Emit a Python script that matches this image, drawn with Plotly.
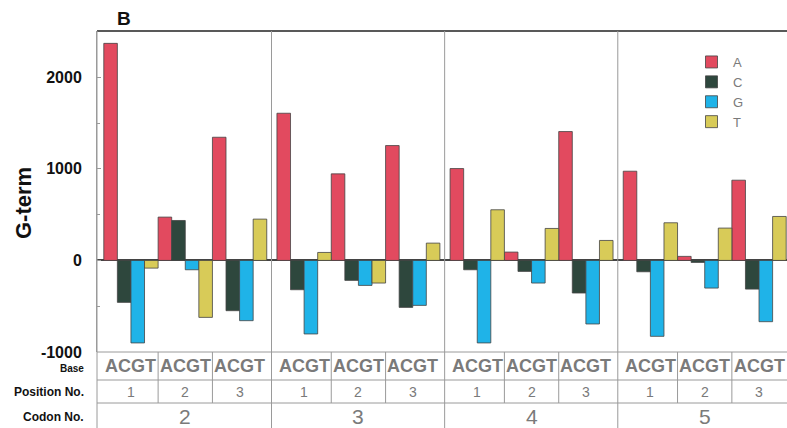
import plotly.graph_objects as go

# ---- data ----
codons = ["2", "3", "4", "5"]
positions = ["1", "2", "3"]
bases = ["A", "C", "G", "T"]
# values ordered codon-major, then position (codon 2 pos1, pos2, pos3, codon 3 pos1, ...)
A_vals = [2370, 473, 1345, 1607, 945, 1254, 1003, 91, 1407, 974, 44, 876]
C_vals = [-458, 436, -549, -320, -218, -513, -102, -120, -356, -124, -22, -313]
G_vals = [-901, -102, -658, -803, -273, -491, -901, -247, -694, -829, -302, -669]
T_vals = [-84, -622, 451, 87, -247, 189, 553, 349, 218, 411, 353, 480]
series = {"A": A_vals, "C": C_vals, "G": G_vals, "T": T_vals}
colors = {"A": "#e24a5f", "C": "#2e473d", "G": "#1fb3e8", "T": "#d8cb58"}
y_ticks = [-1000, 0, 1000, 2000]

# ---- layout helpers (category slots) ----
GROUP = 12.75
START = 0.5
def group_start(g):
    return START + g * GROUP

fig = go.Figure()
for bi, b in enumerate(bases):
    xs, ys = [], []
    k = 0
    for gi in range(len(codons)):
        for pi in range(len(positions)):
            xs.append(group_start(gi) + pi * 4 + bi + 0.5)
            ys.append(series[b][k])
            k += 1
    fig.add_trace(go.Bar(x=xs, y=ys, name=b, width=1,
                         marker=dict(color=colors[b], line=dict(color="#444", width=0.8))))

W, H = 787, 428
L, T, B = 97, 31, 76
plot_h = H - T - B
def py(pix):
    return (H - B - pix) / plot_h
def px(pix):
    return (pix - L) / (W - L)

grey = "#9a9a9a"
txtgrey = "#7a7a7a"
FONT = "Liberation Sans, Arial"
shapes = []
# top border
shapes.append(dict(type="line", xref="paper", yref="paper", x0=0, x1=1, y0=1, y1=1,
                   line=dict(color="#222", width=1.5)))
# left border through the table
shapes.append(dict(type="line", xref="paper", yref="paper", x0=0, x1=0, y0=py(428), y1=1,
                   line=dict(color=grey, width=1)))
# group separators
for gi in range(1, len(codons)):
    xs = group_start(gi) - 0.4
    shapes.append(dict(type="line", xref="x", yref="paper", x0=xs, x1=xs, y0=py(428), y1=1,
                       line=dict(color=grey, width=1)))
# table horizontal lines
for yy in [352, 380, 403]:
    shapes.append(dict(type="line", xref="paper", yref="paper", x0=0, x1=1, y0=py(yy), y1=py(yy),
                       line=dict(color=grey, width=1)))
# position separators
for gi in range(len(codons)):
    for pi in range(1, len(positions)):
        xs = group_start(gi) + pi * 4
        shapes.append(dict(type="line", xref="x", yref="paper", x0=xs, x1=xs, y0=py(403), y1=py(352),
                           line=dict(color=grey, width=1)))

ann = []
for gi, c in enumerate(codons):
    for pi, p in enumerate(positions):
        xc = group_start(gi) + pi * 4 + 2
        ann.append(dict(x=xc, y=py(366), xref="x", yref="paper", text="".join(bases), showarrow=False,
                        font=dict(family=FONT, size=18, color=txtgrey, weight="bold"),
                        xanchor="center", yanchor="middle"))
        ann.append(dict(x=xc, y=py(391.5), xref="x", yref="paper", text=p, showarrow=False,
                        font=dict(family=FONT, size=14, color=txtgrey),
                        xanchor="center", yanchor="middle"))
    ann.append(dict(x=group_start(gi) + 6, y=py(416), xref="x", yref="paper", text=c, showarrow=False,
                    font=dict(family=FONT, size=21, color=txtgrey),
                    xanchor="center", yanchor="middle"))

lab_font = dict(family=FONT, size=12, color="#111", weight="bold")
ann.append(dict(x=px(86), y=py(369), xref="paper", yref="paper", text="Base", showarrow=False,
                font=dict(family=FONT, size=10, color="#111", weight="bold"),
                xanchor="right", yanchor="middle"))
ann.append(dict(x=px(86), y=py(391.5), xref="paper", yref="paper", text="Position No.", showarrow=False,
                font=lab_font, xanchor="right", yanchor="middle"))
ann.append(dict(x=px(86), y=py(416.5), xref="paper", yref="paper", text="Codon No.", showarrow=False,
                font=lab_font, xanchor="right", yanchor="middle"))
ann.append(dict(x=px(23), y=py(203), xref="paper", yref="paper", text="G-term", showarrow=False,
                textangle=-90, font=dict(family=FONT, size=22, color="#111", weight="bold"),
                xanchor="center", yanchor="middle"))
ann.append(dict(x=px(124), y=py(18), xref="paper", yref="paper", text="B", showarrow=False,
                font=dict(family=FONT, size=19, color="#111", weight="bold"),
                xanchor="center", yanchor="middle"))

fig.update_layout(
    width=W, height=H,
    margin=dict(l=L, r=0, t=T, b=B, pad=0),
    paper_bgcolor="white", plot_bgcolor="white",
    barmode="overlay",
    showlegend=True,
    legend=dict(x=px(690), y=py(47), xanchor="left", yanchor="top", itemwidth=33,
                font=dict(family=FONT, size=13, color=txtgrey),
                bgcolor="rgba(0,0,0,0)", borderwidth=0, tracegroupgap=0),
    xaxis=dict(range=[0, (W - L) / 13.58], showticklabels=False, ticks="", showgrid=False,
               zeroline=False, showline=False, fixedrange=True),
    yaxis=dict(range=[-1000, 2505], tickvals=y_ticks, ticktext=[str(v) for v in y_ticks],
               ticks="inside", ticklen=4, tickcolor=grey,
               minor=dict(dtick=500, ticks="inside", ticklen=3, tickcolor=grey),
               showgrid=False, zeroline=True, zerolinecolor="#444", zerolinewidth=1.5,
               showline=True, linecolor=grey, linewidth=1,
               tickfont=dict(family=FONT, size=16, color="#111", weight="bold"),
               ticklabelstandoff=11),
    shapes=shapes,
    annotations=ann,
)

fig.write_html("out.html", config={"displayModeBar": False},
               post_script="document.body.style.margin='0';")
